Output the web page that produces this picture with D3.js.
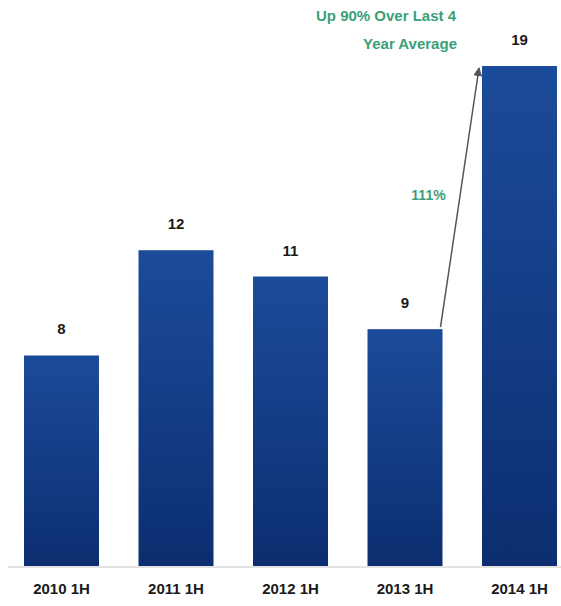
<!DOCTYPE html>
<html>
<head>
<meta charset="utf-8">
<script src="https://cdn.jsdelivr.net/npm/d3@7"></script>
<style>
  body { margin: 0; background: #fff; }
  text { font-family: "Liberation Sans", Arial, sans-serif; }
</style>
</head>
<body>
<div id="chart"></div>
<script>
// Chart data
var periods = ["2010 1H", "2011 1H", "2012 1H", "2013 1H", "2014 1H"];
var counts = [8, 12, 11, 9, 19];
var growthLabel = "111%";
var noteLines = ["Up 90% Over Last 4", "Year Average"];

// SVG area
var svg__Width = 561;
var svg__Height = 606;

var chart__Margin = { top: 66, right: 4, bottom: 40, left: 24 };
var chart__Width = svg__Width - chart__Margin.left - chart__Margin.right;
var chart__Height = svg__Height - chart__Margin.top - chart__Margin.bottom;

var svg = d3.select("#chart")
  .append("svg")
  .attr("width", svg__Width)
  .attr("height", svg__Height);

// bar gradient, lighter at top
var defs = svg.append("defs");
var grad = defs.append("linearGradient")
  .attr("id", "barGrad")
  .attr("x1", 0).attr("y1", 0).attr("x2", 0).attr("y2", 1);
grad.append("stop").attr("offset", "0%").attr("stop-color", "#1c4b9b");
grad.append("stop").attr("offset", "100%").attr("stop-color", "#0c2e70");

var marker = defs.append("marker")
  .attr("id", "arrowHead")
  .attr("viewBox", "0 0 10 10")
  .attr("refX", 9).attr("refY", 5)
  .attr("markerWidth", 6).attr("markerHeight", 6)
  .attr("orient", "auto");
marker.append("path").attr("d", "M0,0 L10,5 L0,10 z").attr("fill", "#555");

var chart__Group = svg.append("g")
  .attr("transform", `translate(${chart__Margin.left}, ${chart__Margin.top})`);

var x__Scale = d3.scaleBand()
  .domain(periods)
  .range([0, chart__Width])
  .paddingInner(0.345)
  .paddingOuter(0);

var y__Scale = d3.scaleLinear()
  .domain([0, 19])
  .range([chart__Height, 0]);

// baseline
chart__Group.append("line")
  .attr("x1", -16).attr("x2", chart__Width + chart__Margin.right)
  .attr("y1", chart__Height + 1).attr("y2", chart__Height + 1)
  .attr("stroke", "#d8d8d8")
  .attr("stroke-width", 1.5);

chart__Group.selectAll(".bar")
  .data(counts)
  .enter()
  .append("rect")
  .attr("class", "bar")
  .attr("x", (d, i) => x__Scale(periods[i]))
  .attr("y", d => y__Scale(d))
  .attr("width", x__Scale.bandwidth())
  .attr("height", d => chart__Height - y__Scale(d))
  .attr("fill", "url(#barGrad)");

// value labels
chart__Group.selectAll(".val")
  .data(counts)
  .enter()
  .append("text")
  .attr("class", "val")
  .attr("x", (d, i) => x__Scale(periods[i]) + x__Scale.bandwidth() / 2)
  .attr("y", d => y__Scale(d) - 21)
  .attr("text-anchor", "middle")
  .attr("font-size", 15)
  .attr("font-weight", "bold")
  .attr("fill", "#1a1a1a")
  .text(d => d);

// category axis
var bottom__Axis = d3.axisBottom(x__Scale).tickSize(0).tickPadding(17);
var axisG = chart__Group.append("g")
  .attr("transform", `translate(0, ${chart__Height})`)
  .call(bottom__Axis);
axisG.select(".domain").remove();
axisG.selectAll("text")
  .attr("font-size", 15)
  .attr("font-weight", "bold")
  .attr("font-family", "Liberation Sans, Arial, sans-serif")
  .attr("fill", "#1a1a1a");

// growth arrow from 2013 bar to 2014 bar
var from = periods[3], to = periods[4];
var x1 = x__Scale(from) + x__Scale.bandwidth() - 2;
var y1 = y__Scale(counts[3]) - 2;
var x2 = x__Scale(to) - 3;
var y2 = y__Scale(counts[4]) + 2;
chart__Group.append("line")
  .attr("x1", x1).attr("y1", y1)
  .attr("x2", x2).attr("y2", y2)
  .attr("stroke", "#555")
  .attr("stroke-width", 1.5)
  .attr("marker-end", "url(#arrowHead)");

chart__Group.append("text")
  .attr("x", x1 - 12)
  .attr("y", y__Scale(13.9))
  .attr("text-anchor", "middle")
  .attr("font-size", 14)
  .attr("font-weight", "bold")
  .attr("fill", "#3a9f78")
  .text(growthLabel);

// note above
var note = svg.append("text")
  .attr("text-anchor", "middle")
  .attr("font-size", 15)
  .attr("font-weight", "bold")
  .attr("fill", "#3a9f78");
note.append("tspan").attr("x", 386).attr("y", 21).text(noteLines[0]);
note.append("tspan").attr("x", 410).attr("y", 49).text(noteLines[1]);
</script>
</body>
</html>
